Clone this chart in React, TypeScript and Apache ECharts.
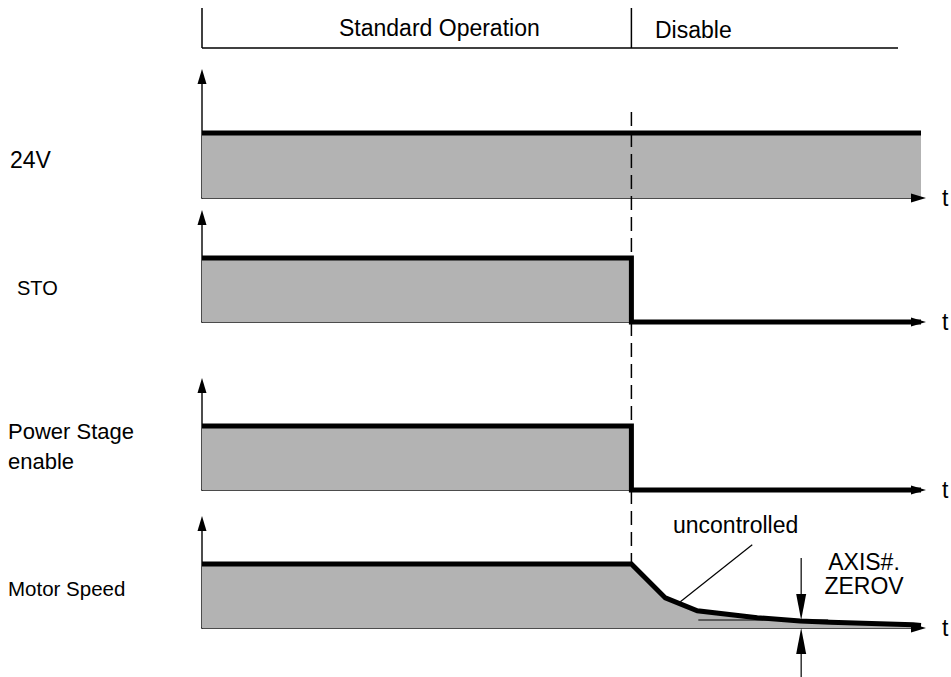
import React, { useEffect, useRef } from "react";
import * as echarts from "echarts";

// ---- data ----
const T_MAX = 72;
const T_EVENT = 43;
const T_HEADER_END = 69.7;
const phaseLabels = ["Standard Operation", "Disable"];
const signalNames = ["24V", "STO", "Power Stage\nenable", "Motor Speed"];
const supply24V = [[0, 1], [72, 1]];
const stoSignal = [[0, 1], [43, 1], [43, 0], [72, 0]];
const powerStage = [[0, 1], [43, 1], [43, 0], [72, 0]];
const motorSpeed = [
  [0, 1], [43, 1], [46.4, 0.47], [49.6, 0.27], [55.6, 0.16],
  [59.9, 0.11], [62.9, 0.09], [71.2, 0.05], [72, 0.04],
];
const zerovLevel = 0.125;
const zerovRange = [49.7, 62.7];
const zerovArrowT = 60;
const uncontrolledLeader = [[55.1, 1.3], [47.9, 0.41]];

// ---- layout ----
const FONT = "'Liberation Sans', Arial, sans-serif";
const gridTops = [80, 221, 389, 527];
const gridHeights = [118, 101, 101, 101];
const pxPerUnit = [65, 64, 64, 64];
const allSeries = [supply24V, stoSignal, powerStage, motorSpeed];
const labelPos = [
  { x: 10, y: 160, size: 23 },
  { x: 17, y: 288, size: 20 },
  { x: 8, y: 446, size: 22 },
  { x: 8, y: 588, size: 20.5 },
];

export default function App() {
  const ref = useRef<HTMLDivElement>(null);
  useEffect(() => {
    if (!ref.current) return;
    const chart = echarts.init(ref.current, undefined, { renderer: "svg" });
    const axisColor = "#111";
    const grids = gridTops.map((top, i) => ({ left: 202, width: 719, top, height: gridHeights[i] }));
    const xAxes = grids.map((_, i) => ({
      type: "value", gridIndex: i, min: 0, max: T_MAX,
      axisLine: { show: true, onZero: true, lineStyle: { color: axisColor, width: 1.5 } },
      axisTick: { show: false }, axisLabel: { show: false }, splitLine: { show: false },
      name: "t", nameLocation: "end", nameGap: 21,
      nameTextStyle: { fontSize: 23, color: "#000", fontFamily: FONT, verticalAlign: "middle" },
    }));
    const yAxes = grids.map((_, i) => ({
      type: "value", gridIndex: i, min: 0, max: gridHeights[i] / pxPerUnit[i],
      axisLine: { show: true, lineStyle: { color: axisColor, width: 1.5 } },
      axisTick: { show: false }, axisLabel: { show: false }, splitLine: { show: false },
    }));
    const series = allSeries.map((d, i) => ({
      type: "line", xAxisIndex: i, yAxisIndex: i, data: d,
      showSymbol: false, symbol: "none", clip: false,
      lineStyle: { color: "#000", width: 5, join: "miter" },
      areaStyle: { color: "#b3b3b3", opacity: 1 },
      z: 3,
    }));
    chart.setOption({
      animation: false,
      backgroundColor: "#fff",
      grid: grids,
      xAxis: xAxes,
      yAxis: yAxes,
      series,
    });

    const px = (g: number, p: number[]) => chart.convertToPixel({ gridIndex: g } as any, p) as number[];
    const x0 = px(0, [0, 0])[0];
    const xe = px(0, [T_EVENT, 0])[0];
    const xh = px(0, [T_HEADER_END, 0])[0];
    const lineStyle = { stroke: "#000", lineWidth: 1.5 };
    const textStyle = (text: string, x: number, y: number, size: number, align = "left") => ({
      type: "text", x, y,
      style: { text, fill: "#000", font: `${size}px ${FONT}`, textAlign: align, textVerticalAlign: "middle", lineHeight: 30 },
    });
    const g: any[] = [];
    // axis arrowheads
    grids.forEach((_, i) => {
      const origin = px(i, [0, 0]);
      const xEnd = px(i, [T_MAX, 0]);
      const yTop = px(i, [0, gridHeights[i] / pxPerUnit[i]]);
      const tipX = xEnd[0] + 5;
      g.push({ type: "polygon", z: 20, shape: { points: [[tipX, origin[1]], [tipX - 15, origin[1] - 4.5], [tipX - 15, origin[1] + 4.5]] }, style: { fill: "#000" } });
      const tipY = yTop[1] - 11;
      g.push({ type: "line", z: 20, shape: { x1: origin[0], y1: yTop[1], x2: origin[0], y2: tipY + 5 }, style: { stroke: axisColor, lineWidth: 1.5 } });
      g.push({ type: "polygon", z: 20, shape: { points: [[origin[0], tipY], [origin[0] - 4.5, tipY + 15], [origin[0] + 4.5, tipY + 15]] }, style: { fill: "#000" } });
    });
    // header
    g.push({ type: "line", shape: { x1: x0, y1: 8, x2: x0, y2: 48 }, style: lineStyle });
    g.push({ type: "line", shape: { x1: x0, y1: 48, x2: xh, y2: 48 }, style: lineStyle });
    g.push({ type: "line", shape: { x1: xe, y1: 8, x2: xe, y2: 48 }, style: lineStyle });
    g.push(textStyle(phaseLabels[0], 339, 28, 23));
    g.push(textStyle(phaseLabels[1], 655, 30, 23));
    // dashed event line
    const motorHigh = px(3, [T_EVENT, 1]);
    g.push({ type: "line", z: 10, shape: { x1: xe, y1: 112, x2: xe, y2: motorHigh[1] - 2 }, style: { stroke: "#000", lineWidth: 1.5, lineDash: [14, 7] } });
    // signal labels
    signalNames.forEach((n, i) => {
      const lp = labelPos[i];
      g.push({ type: "text", x: lp.x, y: lp.y, style: { text: n, fill: "#000", font: `${lp.size}px ${FONT}`, textAlign: "left", textVerticalAlign: "middle", lineHeight: 30 } });
    });
    // uncontrolled annotation
    g.push(textStyle("uncontrolled", 673, 525, 23));
    const l1 = px(3, uncontrolledLeader[0]);
    const l2 = px(3, uncontrolledLeader[1]);
    g.push({ type: "line", z: 10, shape: { x1: l1[0], y1: l1[1], x2: l2[0], y2: l2[1] }, style: { stroke: "#000", lineWidth: 1.2 } });
    // ZEROV level line
    const zA = px(3, [zerovRange[0], zerovLevel]);
    const zB = px(3, [zerovRange[1], zerovLevel]);
    g.push({ type: "line", z: 10, shape: { x1: zA[0], y1: zA[1], x2: zB[0], y2: zB[1] }, style: { stroke: "#000", lineWidth: 1.2 } });
    // ZEROV arrows
    const ta = px(3, [zerovArrowT, zerovLevel]);
    const tb = px(3, [zerovArrowT, 0]);
    const head = 26, hw = 5;
    g.push({ type: "line", z: 10, shape: { x1: ta[0], y1: 558, x2: ta[0], y2: ta[1] - head }, style: { stroke: "#000", lineWidth: 1.2 } });
    g.push({ type: "polygon", z: 10, shape: { points: [[ta[0] - hw, ta[1] - head], [ta[0] + hw, ta[1] - head], [ta[0], ta[1]]] }, style: { fill: "#000" } });
    g.push({ type: "line", z: 10, shape: { x1: tb[0], y1: 677, x2: tb[0], y2: tb[1] + head }, style: { stroke: "#000", lineWidth: 1.2 } });
    g.push({ type: "polygon", z: 10, shape: { points: [[tb[0] - hw, tb[1] + head], [tb[0] + hw, tb[1] + head], [tb[0], tb[1]]] }, style: { fill: "#000" } });
    g.push(textStyle("AXIS#.", 864, 562, 23, "center"));
    g.push(textStyle("ZEROV", 864, 586, 23, "center"));

    chart.setOption({ graphic: g });
    return () => chart.dispose();
  }, []);
  return (
    <div
      ref={ref}
      style={{ position: "fixed", left: 0, top: 0, width: 951, height: 677, background: "#fff" }}
    />
  );
}
